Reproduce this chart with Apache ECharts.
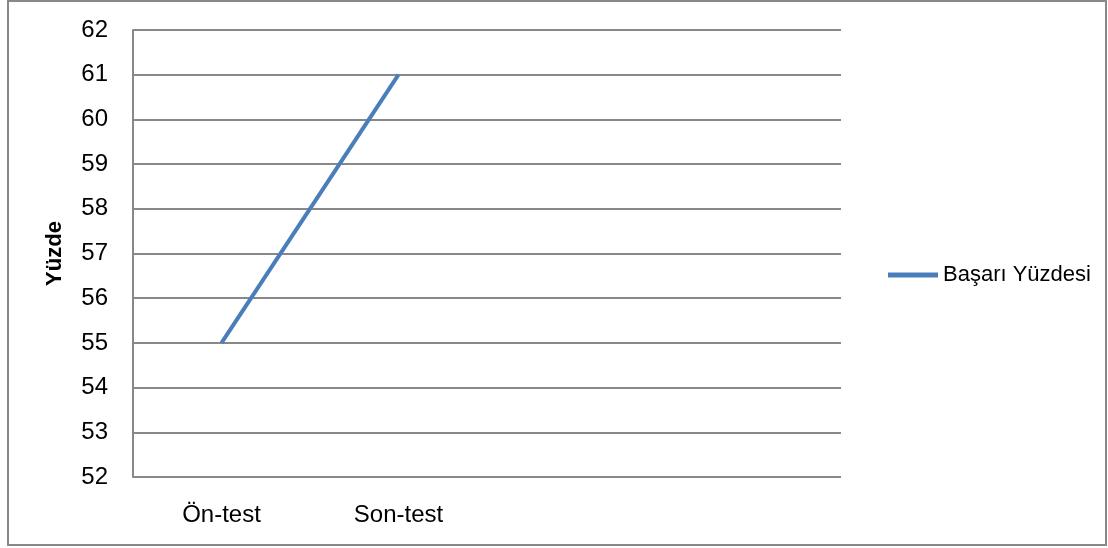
<!DOCTYPE html>
<html>
<head>
<meta charset="utf-8">
<script src="https://cdn.jsdelivr.net/npm/echarts@6/dist/echarts.min.js"></script>
<style>
  html, body { margin: 0; padding: 0; background: #fff; }
  #chart { width: 1108px; height: 548px; }
</style>
</head>
<body>
<div id="chart"></div>
<script>
// category slots: two used, two left empty like the original sheet
var categories = ['Ön-test', 'Son-test', '', ''];
var basari = [55, 61, null, null];
var yMin = 52, yMax = 62, yStep = 1;

var chart = echarts.init(document.getElementById('chart'));
chart.setOption({
  animation: false,
  color: ['#4a7ebb'],
  textStyle: { fontFamily: 'Liberation Sans, Arial, sans-serif' },
  graphic: [{
    type: 'rect',
    shape: { x: 8, y: 1, width: 1098, height: 544 },
    style: { fill: 'none', stroke: '#888', lineWidth: 2 },
    silent: true
  }],
  grid: { left: 133, top: 30, width: 708, height: 447 },
  legend: {
    left: 883, top: 259,
    orient: 'vertical',
    icon: 'rect',
    itemWidth: 50, itemHeight: 5,
    itemGap: 10,
    textStyle: { fontSize: 22, color: '#000', fontFamily: 'Liberation Sans, Arial, sans-serif' },
    data: ['Başarı Yüzdesi']
  },
  xAxis: {
    type: 'category',
    data: categories,
    boundaryGap: true,
    axisLine: { show: false },
    axisTick: { show: false },
    axisLabel: { fontSize: 24, color: '#000', margin: 26 }
  },
  yAxis: {
    type: 'value',
    min: yMin, max: yMax, interval: yStep,
    name: 'Yüzde',
    nameLocation: 'middle',
    nameGap: 67,
    nameRotate: 90,
    nameTextStyle: { fontSize: 22, fontWeight: 'bold', color: '#000' },
    axisLine: { show: true, lineStyle: { color: '#888', width: 2 } },
    axisTick: { show: false },
    axisLabel: { fontSize: 24, color: '#000', margin: 25 },
    splitLine: { lineStyle: { color: '#888', width: 2 } }
  },
  series: [{
    name: 'Başarı Yüzdesi',
    type: 'line',
    data: basari,
    showSymbol: false,
    symbol: 'none',
    lineStyle: { width: 4, color: '#4a7ebb' }
  }]
});
</script>
</body>
</html>
